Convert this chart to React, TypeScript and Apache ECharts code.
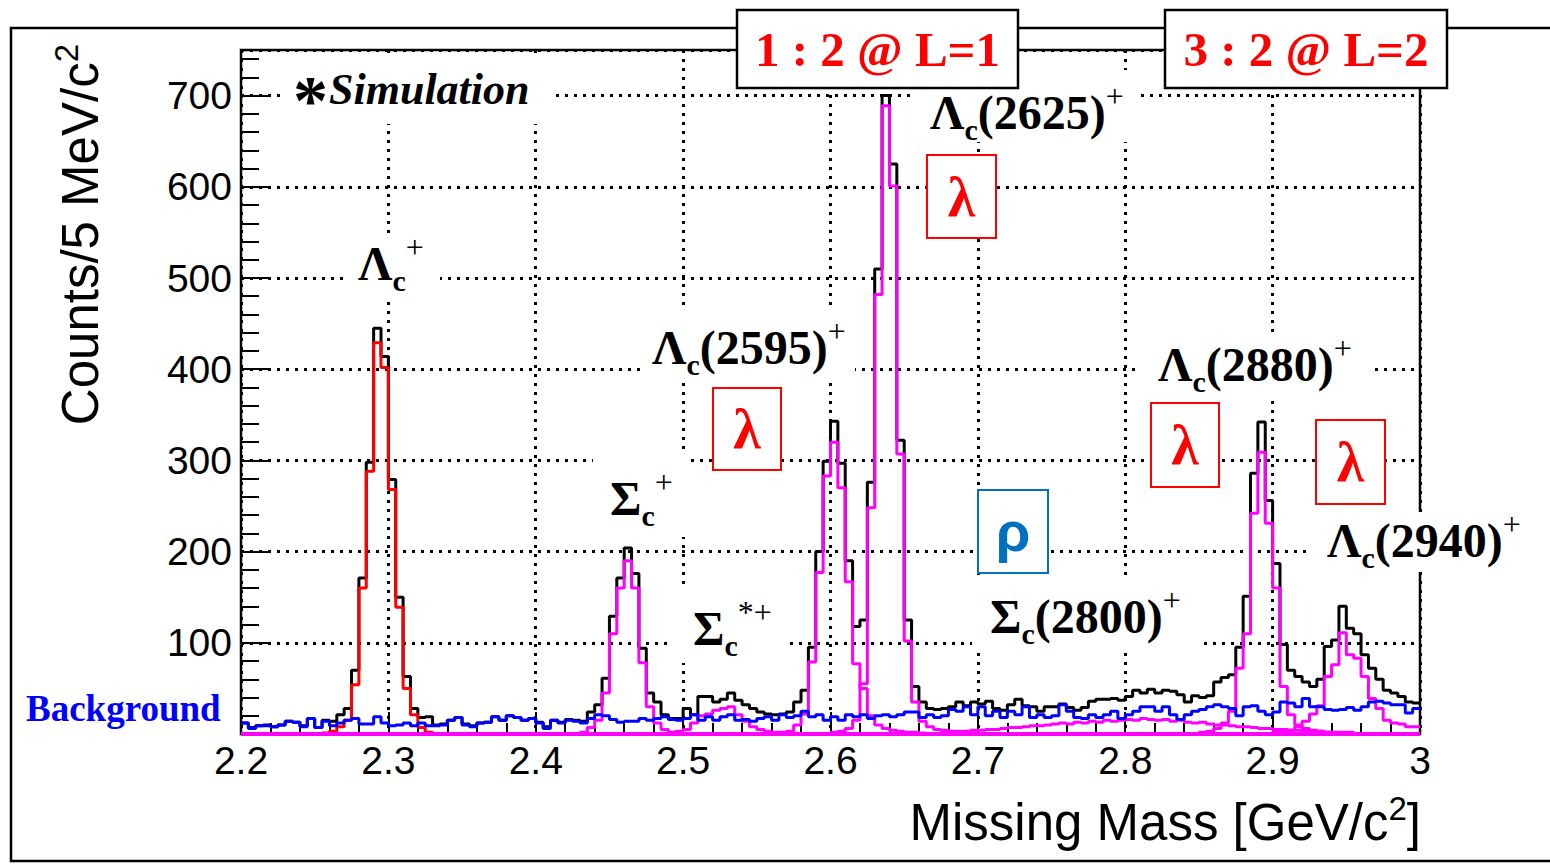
import React, { useEffect, useRef } from 'react';
import * as echarts from 'echarts';

// Histogram binning: 5 MeV bins from 2.2 to 3.0 GeV/c^2
const BIN_LOW = 2.2;
const BIN_WIDTH = 0.005;
const N_BINS = 160;

const X_TICKS = [2.2, 2.3, 2.4, 2.5, 2.6, 2.7, 2.8, 2.9, 3.0];
const Y_TICKS = [100, 200, 300, 400, 500, 600, 700];

// Total (black)
const TOTAL = [
  12, 7, 9, 10, 8, 10, 14, 13, 9, 17,
  7, 15, 14, 21, 28, 70, 171, 298, 445, 414,
  279, 150, 63, 28, 18, 19, 10, 11, 15, 18,
  11, 9, 12, 13, 19, 15, 20, 18, 15, 17,
  13, 8, 15, 13, 16, 15, 14, 24, 32, 61,
  129, 171, 204, 176, 94, 45, 35, 21, 17, 17,
  28, 21, 41, 41, 35, 38, 45, 37, 32, 28,
  24, 22, 21, 22, 24, 35, 48, 95, 200, 299,
  343, 297, 190, 118, 125, 276, 510, 700, 625, 322,
  125, 52, 35, 28, 27, 28, 30, 35, 31, 35,
  33, 36, 28, 26, 32, 38, 31, 30, 25, 30,
  30, 33, 29, 26, 29, 36, 38, 38, 39, 37,
  41, 48, 45, 49, 45, 48, 47, 43, 35, 42,
  40, 42, 57, 62, 65, 95, 151, 286, 342, 256,
  187, 98, 70, 63, 57, 52, 60, 96, 103, 140,
  116, 110, 87, 72, 60, 48, 45, 41, 35, 34,
];

// Background (blue)
const BACKGROUND = [
  12, 6, 9, 9, 8, 10, 14, 13, 8, 17,
  7, 14, 9, 12, 15, 17, 11, 11, 19, 12,
  9, 10, 12, 9, 12, 9, 9, 10, 15, 18,
  10, 8, 12, 13, 19, 15, 20, 18, 15, 17,
  12, 6, 15, 12, 15, 14, 12, 17, 21, 20,
  16, 13, 14, 14, 17, 15, 17, 19, 16, 15,
  17, 21, 15, 19, 15, 19, 21, 15, 16, 14,
  17, 19, 15, 21, 18, 20, 25, 19, 21, 15,
  19, 15, 21, 19, 21, 17, 20, 21, 19, 21,
  24, 24, 18, 21, 18, 20, 27, 25, 30, 21,
  30, 20, 25, 18, 25, 21, 30, 18, 21, 18,
  20, 32, 25, 18, 17, 21, 18, 21, 25, 17,
  21, 25, 30, 30, 25, 30, 21, 16, 21, 25,
  27, 30, 32, 30, 28, 20, 30, 31, 25, 21,
  24, 35, 34, 30, 39, 30, 30, 27, 26, 27,
  29, 26, 30, 35, 36, 34, 32, 32, 23, 28,
];

// Signal components: first bin index + counts
const LC_START = 11;
const LC = [1, 3, 8, 15, 54, 160, 288, 429, 402, 268, 139, 50, 21, 7, 2];

const SC_START = 46;
const SC = [2, 7, 15, 45, 110, 160, 190, 160, 78, 30, 12, 5, 2];

const SCSTAR_START = 58;
const SCSTAR = [1, 3, 5, 12, 20, 22, 26, 28, 30, 21, 14, 8, 5, 3, 2, 1];

const L2595_START = 72;
const L2595 = [1, 2, 3, 10, 22, 79, 177, 283, 320, 270, 167, 77, 50, 20, 10, 6, 4, 3, 2, 2, 1];

const L2625_START = 80;
const L2625 = [2, 3, 6, 15, 55, 248, 482, 689, 601, 307, 102, 35, 14, 8, 5, 4, 3, 2, 2, 1];

const S2800_START = 95;
const S2800 = [
  2, 2, 3, 3, 4, 4, 5, 5, 6, 7, 7, 8, 9, 9, 10, 11, 12, 11, 13, 12,
  14, 13, 15, 14, 15, 16, 15, 17, 16, 15, 16, 14, 15, 13, 12, 13, 11, 10, 10, 9,
  8, 8, 7, 6, 6, 5, 5, 4, 4, 3, 3, 3, 2, 2, 2, 2,
];

const L2880_START = 130;
const L2880 = [2, 3, 6, 12, 25, 72, 110, 242, 309, 231, 160, 52, 21, 10, 6, 4, 3, 2, 1];

const L2940_START = 140;
const L2940 = [2, 3, 4, 8, 14, 22, 31, 63, 76, 111, 87, 83, 63, 39, 28, 15, 12, 11, 8, 8];

function fromSparse(start: number, vals: number[]): number[] {
  const arr = new Array(N_BINS).fill(0);
  vals.forEach((v, i) => {
    arr[start + i] = v;
  });
  return arr;
}

function toSteps(vals: number[]): number[][] {
  const pts = vals.map((v, i) => [BIN_LOW + BIN_WIDTH * i, v]);
  pts.push([BIN_LOW + BIN_WIDTH * vals.length, vals[vals.length - 1]]);
  return pts;
}

const SERIF = 'Liberation Serif';
const SANS = 'Liberation Sans';

const peakRich = {
  m: { fontFamily: SERIF, fontWeight: 'bold', fontSize: 48, lineHeight: 64, verticalAlign: 'middle', fill: '#000' },
  s: { fontFamily: SERIF, fontWeight: 'bold', fontSize: 30, lineHeight: 30, verticalAlign: 'bottom', fill: '#000' },
  p: { fontFamily: SERIF, fontWeight: 'normal', fontSize: 32, lineHeight: 42, verticalAlign: 'top', fill: '#000' },
};

function peakLabel(x: number, y: number, main: string, sub: string, rest: string, sup: string) {
  let text = `{m|${main}}{s|${sub}}`;
  if (rest) text += `{m|${rest}}`;
  text += `{p|${sup}}`;
  return {
    type: 'text',
    x,
    y,
    z: 60,
    silent: true,
    style: { text, rich: peakRich, align: 'left', verticalAlign: 'middle', fill: '#000' },
  };
}

function cover(x: number, y: number, w: number, h: number) {
  return { type: 'rect', z: 55, silent: true, shape: { x, y, width: w, height: h }, style: { fill: '#fff', stroke: null } };
}

function letterBox(x: number, y: number, w: number, h: number, ch: string, color: string, font: string) {
  return [
    { type: 'rect', z: 58, silent: true, shape: { x, y, width: w, height: h }, style: { fill: '#fff', stroke: color, lineWidth: 2 } },
    {
      type: 'text', z: 60, silent: true, x: x + w / 2, y: y + h / 2,
      style: { text: ch, fill: color, fontFamily: font, fontWeight: 'bold', fontSize: 56, align: 'center', verticalAlign: 'middle' },
    },
  ];
}

function topBox(x: number, y: number, w: number, h: number, text: string) {
  return [
    { type: 'rect', z: 100, silent: true, shape: { x, y, width: w, height: h }, style: { fill: '#fff', stroke: '#000', lineWidth: 2.5 } },
    {
      type: 'text', z: 101, silent: true, x: x + w / 2, y: y + h / 2,
      style: { text, fill: '#ff0000', fontFamily: SERIF, fontWeight: 'bold', fontSize: 49, align: 'center', verticalAlign: 'middle' },
    },
  ];
}

function buildOption() {
  const lw = 3;
  const mk = (name: string, vals: number[], color: string) => ({
    name,
    type: 'line',
    step: 'end',
    data: toSteps(vals),
    symbol: 'none',
    showSymbol: false,
    clip: false,
    silent: true,
    lineStyle: { color, width: lw },
    xAxisIndex: 0,
    yAxisIndex: 0,
  });

  const series = [
    mk('Total', TOTAL, '#000000'),
    mk('Lambda_c+', fromSparse(LC_START, LC), '#ff0000'),
    mk('Sigma_c+', fromSparse(SC_START, SC), '#ff00ff'),
    mk('Sigma_c*+', fromSparse(SCSTAR_START, SCSTAR), '#ff00ff'),
    mk('Lambda_c(2595)+', fromSparse(L2595_START, L2595), '#ff00ff'),
    mk('Lambda_c(2625)+', fromSparse(L2625_START, L2625), '#ff00ff'),
    mk('Sigma_c(2800)+', fromSparse(S2800_START, S2800), '#ff00ff'),
    mk('Lambda_c(2880)+', fromSparse(L2880_START, L2880), '#ff00ff'),
    mk('Lambda_c(2940)+', fromSparse(L2940_START, L2940), '#ff00ff'),
    mk('Background', BACKGROUND, '#0000ff'),
  ];

  const dotted = { color: '#000', width: 3, type: [3, 6] };

  const graphic: any[] = [
    // outer frame
    { type: 'rect', z: 0, silent: true, shape: { x: 11, y: 28, width: 1600, height: 833 }, style: { fill: 'none', stroke: '#000', lineWidth: 2.5 } },
    // plot frame
    { type: 'rect', z: 1, silent: true, shape: { x: 241, y: 50, width: 1179, height: 684 }, style: { fill: 'none', stroke: '#000', lineWidth: 2.5 } },

    // white covers behind labels
    cover(283, 54, 272, 70),
    cover(345, 238, 95, 60),
    cover(640, 308, 215, 74),
    cover(915, 70, 225, 72),
    cover(593, 455, 94, 82),
    cover(673, 588, 117, 75),
    cover(972, 575, 228, 78),
    cover(1140, 332, 230, 66),
    cover(1310, 512, 240, 60),

    // *Simulation
    {
      type: 'text', z: 60, silent: true, x: 293, y: 100,
      style: { text: '*', fill: '#000', fontFamily: SERIF, fontWeight: 'bold', fontSize: 70, align: 'left', verticalAlign: 'middle' },
    },
    {
      type: 'text', z: 60, silent: true, x: 329, y: 89,
      style: { text: 'Simulation', fill: '#000', fontFamily: SERIF, fontWeight: 'bold', fontStyle: 'italic', fontSize: 44, align: 'left', verticalAlign: 'middle' },
    },

    peakLabel(358, 263, 'Λ', 'c', '', '+'),
    peakLabel(652, 347, 'Λ', 'c', '(2595)', '+'),
    peakLabel(930, 112, 'Λ', 'c', '(2625)', '+'),
    peakLabel(610, 498, 'Σ', 'c', '', '+'),
    peakLabel(693, 628, 'Σ', 'c', '', '*+'),
    peakLabel(990, 616, 'Σ', 'c', '(2800)', '+'),
    peakLabel(1158, 364, 'Λ', 'c', '(2880)', '+'),
    peakLabel(1327, 540, 'Λ', 'c', '(2940)', '+'),

    ...letterBox(713, 388, 68, 82, 'λ', '#ff0000', SERIF),
    ...letterBox(927, 155, 69, 83, 'λ', '#ff0000', SERIF),
    ...letterBox(1151, 403, 68, 84, 'λ', '#ff0000', SERIF),
    ...letterBox(1316, 420, 69, 84, 'λ', '#ff0000', SERIF),
    ...letterBox(978, 490, 70, 83, 'ρ', '#0070c0', SANS),

    ...topBox(737, 10, 281, 78, '1 : 2 @ L=1'),
    ...topBox(1165, 10, 282, 78, '3 : 2 @ L=2'),

    // Background label
    {
      type: 'text', z: 60, silent: true, x: 26, y: 708,
      style: { text: 'Background', fill: '#0000ff', fontFamily: SERIF, fontWeight: 'bold', fontSize: 37, align: 'left', verticalAlign: 'middle' },
    },

    // Y axis title
    {
      type: 'text', z: 60, silent: true, x: 80, y: 44, rotation: Math.PI / 2,
      style: {
        text: '{t|Counts/5 MeV/c}{u|2}',
        align: 'right', verticalAlign: 'middle', fill: '#000',
        rich: {
          t: { fontFamily: SANS, fontSize: 51, lineHeight: 60, verticalAlign: 'middle', fill: '#000' },
          u: { fontFamily: SANS, fontSize: 33, lineHeight: 26, verticalAlign: 'top', fill: '#000' },
        },
      },
    },
    // X axis title
    {
      type: 'text', z: 60, silent: true, x: 1421, y: 822,
      style: {
        text: '{t|Missing Mass [GeV/c}{u|2}{t|]}',
        align: 'right', verticalAlign: 'middle', fill: '#000',
        rich: {
          t: { fontFamily: SANS, fontSize: 51, lineHeight: 60, verticalAlign: 'middle', fill: '#000' },
          u: { fontFamily: SANS, fontSize: 33, lineHeight: 26, verticalAlign: 'top', fill: '#000' },
        },
      },
    },
  ];

  return {
    animation: false,
    backgroundColor: '#ffffff',
    grid: { left: 241, top: 50, width: 1179, height: 684, containLabel: false },
    xAxis: [
      {
        type: 'value',
        min: X_TICKS[0],
        max: X_TICKS[X_TICKS.length - 1],
        interval: 0.1,
        axisLine: { show: false },
        axisTick: { show: true, inside: true, length: 22, lineStyle: { color: '#000', width: 2 } },
        minorTick: { show: true, splitNumber: 5, length: 11, lineStyle: { color: '#000', width: 2 } },
        splitLine: { show: true, lineStyle: dotted },
        axisLabel: {
          color: '#000', fontFamily: SANS, fontSize: 39, margin: 7,
          formatter: (v: number) => String(Math.round(v * 10) / 10),
        },
      },
    ],
    yAxis: [
      {
        type: 'value',
        min: 0,
        max: 750,
        interval: 100,
        axisLine: { show: false },
        axisTick: { show: true, inside: true, length: 27, lineStyle: { color: '#000', width: 2 } },
        splitLine: { show: true, lineStyle: dotted },
        axisLabel: {
          color: '#000', fontFamily: SANS, fontSize: 39, margin: 9,
          formatter: (v: number) => (Y_TICKS.indexOf(v) >= 0 ? String(v) : ''),
        },
      },
      {
        type: 'value',
        min: 0,
        max: 750,
        interval: 20,
        position: 'left',
        axisLine: { show: false },
        axisTick: { show: true, inside: true, length: 18, lineStyle: { color: '#000', width: 2 } },
        splitLine: { show: false },
        axisLabel: { show: false },
      },
    ],
    series,
    graphic,
  };
}

export default function App() {
  const ref = useRef<HTMLDivElement>(null);
  useEffect(() => {
    if (!ref.current) return;
    const chart = echarts.init(ref.current, undefined, { renderer: 'svg' });
    chart.setOption(buildOption() as any);
    return () => {
      chart.dispose();
    };
  }, []);
  return (
    <div
      ref={ref}
      style={{ position: 'fixed', left: 0, top: 0, width: 1550, height: 865, background: '#fff' }}
    />
  );
}
